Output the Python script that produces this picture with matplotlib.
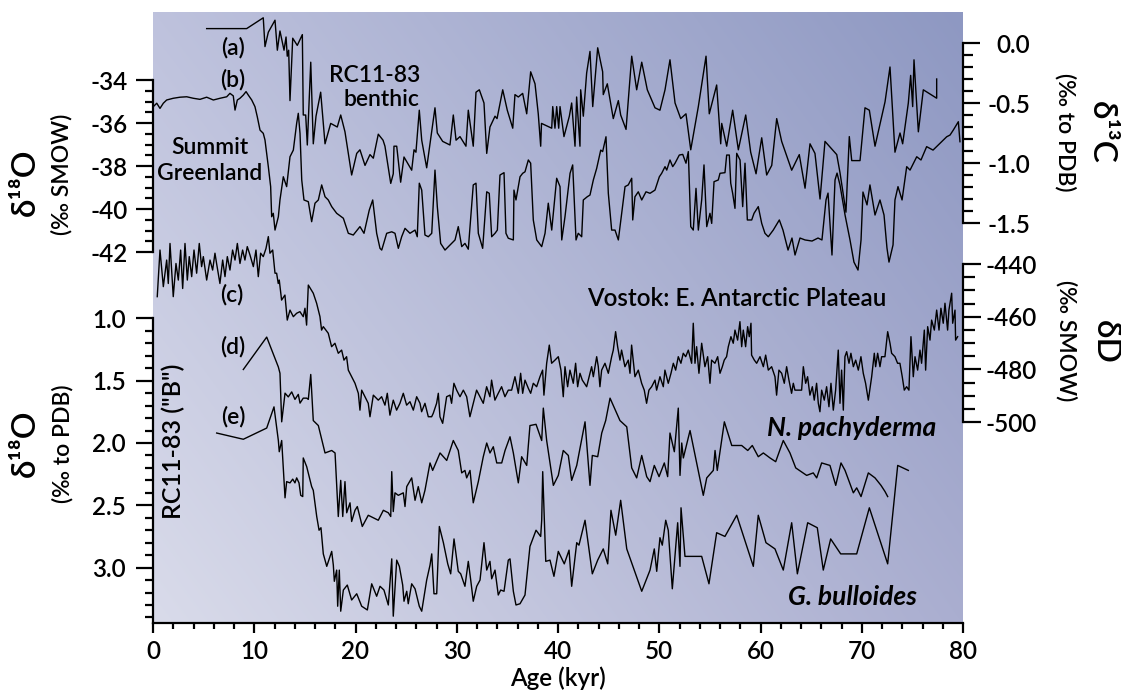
import numpy as np
import matplotlib
matplotlib.use("Agg")
import matplotlib.pyplot as plt
from matplotlib.ticker import FixedLocator, FormatStrFormatter

plt.rcParams['font.family'] = ['Lato', 'DejaVu Sans']
plt.rcParams['font.weight'] = 'semibold'
plt.rcParams['axes.unicode_minus'] = False

# ---------------- data (age kyr, value) ----------------
# (a) RC11-83 benthic d13C (permil PDB)
benthic_d13c = [
(5.30,0.12),(9.25,0.12),(10.89,0.21),(11.06,-0.03),(11.39,0.09),(12.05,0.19),(12.28,-0.06),(12.54,0.10),
(12.94,-0.06),(13.14,0.05),(13.26,-0.11),(13.40,-0.06),(13.53,-0.48),(13.80,0.04),(14.25,-0.02),(14.75,0.07),
(14.84,-0.60),(15.08,-0.60),(15.24,-0.85),(15.58,-0.16),(15.83,-0.84),(16.10,-0.61),(16.56,-0.41),(16.99,-0.84),
(17.55,-0.67),(18.20,-0.70),(18.54,-0.60),(18.96,-0.74),(19.62,-1.10),(20.12,-0.92),(20.44,-0.89),(20.94,-1.02),
(21.43,-0.93),(21.76,-0.96),(22.25,-0.76),(22.72,-0.81),(22.91,-0.86),(23.48,-1.17),(23.73,-1.09),(23.80,-0.86),
(24.07,-0.86),(24.46,-1.16),(24.79,-0.95),(25.55,-1.06),(25.78,-0.89),(25.97,-0.91),(26.30,-0.56),(26.54,-0.81),
(27.03,-1.04),(27.85,-0.54),(28.08,-0.75),(28.61,-0.82),(29.33,-0.85),(29.66,-0.60),(29.93,-0.81),(30.32,-0.78),
(30.91,-0.86),(31.14,-0.56),(31.63,-0.86),(31.90,-0.41),(32.23,-0.39),(32.69,-0.50),(32.96,-0.92),(33.28,-0.70),
(33.78,-0.61),(33.98,-0.63),(34.54,-0.39),(34.99,-0.56),(35.53,-0.71),(35.75,-0.43),(36.08,-0.45),(36.51,-0.42),
(36.91,-0.59),(37.30,-0.24),(37.73,-0.34),(38.05,-0.59),(38.29,-0.86),(38.37,-0.67),(39.38,-0.71),(39.48,-0.53),
(39.70,-0.71),(39.87,-0.53),(40.07,-0.71),(40.20,-0.53),(40.59,-0.78),(41.12,-0.61),(41.35,-0.50),(41.68,-0.86),
(41.84,-0.45),(42.17,-0.86),(42.24,-0.39),(42.50,-0.61),(42.83,-0.25),(43.16,-0.07),(43.43,-0.53),(43.92,-0.04),
(44.41,-0.24),(44.47,-0.43),(44.87,-0.34),(45.46,-0.63),(45.96,-0.48),(46.19,-0.60),(46.72,-0.72),(47.28,-0.11),
(47.77,-0.39),(48.27,-0.16),(48.82,-0.39),(49.58,-0.54),(50.07,-0.56),(50.57,-0.39),(51.06,-0.14),(51.56,-0.50),
(52.12,-0.63),(52.64,-0.59),(53.11,-0.89),(53.86,-0.53),(54.62,-0.11),(54.94,-0.59),(55.67,-0.35),(56.07,-0.84),
(56.17,-0.67),(56.66,-0.86),(57.25,-0.56),(57.81,-0.89),(58.54,-0.60),(59.03,-0.91),(59.56,-1.09),(60.12,-0.79),
(60.61,-1.10),(61.11,-1.02),(61.60,-0.63),(62.09,-0.82),(63.08,-1.06),(63.83,-0.93),(64.40,-1.21),(64.89,-0.84),
(65.38,-0.92),(65.88,-1.30),(66.37,-0.82),(67.53,-0.93),(67.85,-1.08),(68.44,-1.41),(68.77,-0.78),(69.01,-0.98),
(69.83,-0.98),(70.32,-0.54),(70.75,-0.56),(71.31,-0.86),(72.30,-0.49),(72.79,-0.20),(73.28,-0.91),(73.78,-0.75),
(74.04,-0.84),(74.60,-0.50),(74.83,-0.27),(75.03,-0.53),(75.16,-0.14),(75.59,-0.74),(76.08,-0.39),(77.40,-0.46),
(77.40,-0.30)]

# (b) Summit Greenland d18O (permil SMOW)
greenland_d18o = [
(0.03,-35.24),(0.37,-35.08),(0.69,-35.32),(1.02,-35.08),(1.35,-34.93),(2.00,-34.85),(2.67,-34.80),(3.33,-34.78),
(3.98,-34.85),(4.64,-34.90),(5.30,-34.80),(5.96,-34.93),(6.62,-34.85),(7.28,-34.78),(7.60,-34.62),(7.93,-34.74),
(8.10,-35.40),(8.33,-34.93),(8.59,-34.85),(8.92,-34.70),(9.19,-34.54),(9.41,-34.70),(9.75,-34.93),(10.07,-35.24),
(10.30,-35.71),(10.57,-36.33),(10.89,-36.48),(11.06,-36.79),(11.23,-37.41),(11.39,-38.03),(11.62,-38.96),(11.72,-40.36),
(11.88,-40.20),(12.05,-40.98),(12.38,-40.36),(12.54,-39.58),(12.87,-38.50),(13.20,-38.96),(13.53,-37.57),(13.86,-37.26),
(14.19,-36.01),(14.35,-35.55),(14.52,-36.48),(14.69,-38.65),(14.91,-39.58),(15.34,-39.66),(15.67,-40.59),(16.00,-39.73),
(16.33,-39.58),(16.66,-38.88),(16.99,-39.43),(17.31,-39.58),(17.65,-39.89),(18.14,-40.20),(18.80,-40.43),(19.29,-41.13),
(19.78,-41.21),(20.44,-40.82),(20.84,-41.13),(21.36,-40.05),(21.70,-39.58),(22.09,-41.13),(22.42,-41.83),(22.59,-41.91),
(23.08,-41.13),(23.58,-41.06),(23.90,-41.13),(24.23,-41.83),(24.56,-41.29),(24.89,-40.90),(25.38,-41.13),(25.88,-40.98),
(26.10,-41.29),(26.30,-38.80),(26.54,-39.12),(26.86,-41.21),(27.19,-41.29),(27.53,-41.13),(27.85,-38.19),(28.08,-39.89),
(28.41,-41.60),(28.84,-41.91),(29.83,-41.44),(30.15,-40.82),(30.49,-41.75),(30.81,-41.60),(31.14,-41.87),(31.63,-38.88),
(31.90,-38.80),(32.13,-41.13),(32.56,-41.83),(32.96,-39.20),(33.21,-39.27),(33.45,-41.29),(33.78,-41.13),(34.01,-40.98),
(34.27,-38.42),(34.67,-38.31),(34.86,-41.13),(35.09,-41.36),(35.59,-41.44),(35.65,-39.12),(35.85,-39.58),(36.25,-38.50),
(36.51,-38.34),(36.74,-38.27),(37.07,-37.72),(37.30,-37.87),(37.56,-40.51),(37.90,-41.44),(38.39,-41.75),(38.72,-41.13),
(39.04,-39.73),(39.38,-40.98),(39.87,-38.57),(40.20,-38.96),(40.37,-41.44),(40.69,-40.36),(41.19,-38.34),(41.45,-37.95),
(41.78,-41.44),(42.00,-41.13),(42.34,-41.29),(42.50,-39.58),(42.89,-39.43),(43.16,-39.35),(43.49,-38.65),(43.82,-38.11),
(44.22,-37.26),(44.41,-37.33),(44.74,-36.64),(44.97,-39.27),(45.30,-40.98),(45.63,-40.98),(45.96,-41.44),(46.29,-40.20),
(46.62,-38.96),(46.94,-38.88),(47.28,-38.57),(47.38,-40.51),(47.60,-39.43),(47.93,-39.20),(48.27,-39.58),(48.69,-39.20),
(49.09,-39.27),(49.58,-39.12),(50.01,-38.50),(50.24,-38.34),(50.57,-38.03),(50.74,-38.19),(51.06,-37.72),(51.33,-38.03),
(51.56,-37.87),(51.98,-37.49),(52.32,-37.46),(52.64,-37.87),(52.87,-37.33),(53.11,-40.82),(53.36,-40.98),(53.63,-39.04),
(53.86,-40.98),(54.19,-39.58),(54.42,-37.95),(54.69,-40.82),(55.01,-40.20),(55.18,-40.67),(55.41,-38.73),(55.83,-38.65),
(56.00,-38.34),(56.49,-38.31),(56.66,-37.49),(56.92,-37.49),(57.06,-38.80),(57.25,-39.27),(57.48,-39.97),(57.65,-37.41),
(57.98,-37.72),(58.24,-39.89),(58.47,-37.87),(58.70,-40.51),(59.13,-40.51),(59.36,-40.20),(59.78,-39.89),(60.12,-40.67),
(60.44,-41.13),(60.77,-41.29),(61.26,-40.98),(61.86,-40.51),(62.22,-40.98),(62.72,-41.91),(63.11,-41.35),(63.41,-42.14),
(63.90,-41.35),(64.40,-41.44),(65.09,-41.49),(65.68,-41.35),(66.07,-41.44),(66.47,-39.58),(66.67,-39.26),(67.06,-42.14),
(67.36,-38.65),(67.56,-38.33),(67.85,-38.88),(68.35,-40.28),(68.84,-41.44),(69.23,-42.47),(69.63,-42.84),(69.93,-41.44),
(70.12,-39.21),(70.52,-39.81),(70.81,-38.88),(71.31,-40.28),(71.80,-39.58),(72.20,-40.28),(72.49,-41.81),(72.69,-42.47),
(73.09,-41.67),(73.28,-39.58),(73.58,-38.96),(73.98,-39.58),(74.44,-38.03),(74.77,-38.19),(75.43,-37.57),(75.85,-37.72),
(76.41,-37.10),(77.04,-37.26),(77.73,-36.94),(78.39,-36.64),(78.72,-36.56),(79.04,-36.33),(79.54,-35.94),(79.70,-36.87)]

# (c) Vostok dD (permil SMOW)
vostok_dD = [
(0.42,-452.4),(0.69,-434.7),(1.02,-448.6),(1.35,-438.5),(1.51,-447.4),(1.68,-432.2),(2.00,-452.4),(2.27,-439.8),
(2.50,-446.1),(2.73,-434.7),(2.93,-449.3),(3.16,-432.2),(3.39,-446.1),(3.58,-437.2),(3.82,-444.8),(4.05,-434.7),
(4.31,-443.5),(4.57,-432.2),(4.80,-441.0),(4.97,-437.2),(5.30,-446.1),(5.63,-438.5),(5.89,-442.3),(6.12,-435.9),
(6.28,-439.8),(6.61,-447.4),(6.88,-438.5),(7.11,-444.8),(7.34,-437.2),(7.60,-442.3),(7.86,-434.7),(8.10,-438.5),
(8.33,-432.2),(8.59,-439.8),(8.85,-434.7),(9.08,-438.5),(9.31,-433.4),(9.58,-436.6),(9.91,-441.0),(10.17,-434.7),
(10.40,-444.8),(10.63,-435.9),(10.89,-437.2),(11.16,-434.1),(11.39,-429.6),(11.55,-435.9),(11.82,-434.7),(12.05,-443.5),
(12.21,-443.5),(12.37,-447.4),(12.47,-446.1),(12.70,-453.7),(13.03,-451.8),(13.26,-461.3),(13.53,-457.5),(13.86,-460.0),
(14.19,-458.7),(14.51,-458.1),(14.84,-460.0),(15.01,-456.8),(15.17,-463.2),(15.34,-448.0),(15.83,-451.1),(16.16,-454.9),
(16.49,-460.0),(16.65,-465.1),(16.82,-463.8),(17.31,-466.3),(17.64,-471.4),(17.97,-470.1),(18.30,-473.9),(18.63,-472.7),
(18.86,-476.5),(19.12,-475.2),(19.29,-480.3),(19.62,-482.8),(19.95,-485.3),(20.28,-489.1),(20.44,-495.5),(20.61,-487.9),
(20.93,-490.4),(21.26,-492.9),(21.43,-498.0),(21.76,-489.8),(22.25,-491.7),(22.58,-490.4),(22.91,-493.6),(23.14,-489.1),
(23.40,-497.4),(23.73,-491.7),(24.06,-495.5),(24.39,-492.9),(24.72,-489.1),(25.05,-493.6),(25.38,-492.3),(25.71,-495.5),
(26.04,-490.4),(26.37,-492.9),(26.53,-496.1),(26.86,-492.9),(27.19,-498.0),(27.52,-498.0),(27.68,-496.7),(28.01,-492.9),
(28.18,-489.1),(28.34,-498.0),(28.61,-500.5),(29.00,-490.4),(29.33,-489.8),(29.49,-492.9),(29.72,-485.3),(29.99,-487.9),
(30.32,-490.4),(30.65,-487.9),(30.98,-490.4),(31.30,-498.0),(31.63,-492.9),(31.96,-487.9),(32.29,-490.4),(32.62,-492.9),
(32.95,-486.6),(33.28,-490.4),(33.44,-484.1),(33.77,-491.7),(34.10,-489.1),(34.43,-486.6),(34.76,-490.4),(35.09,-487.9),
(35.42,-487.9),(35.75,-482.8),(36.08,-489.1),(36.31,-481.5),(36.51,-489.1),(36.74,-484.1),(37.07,-487.2),(37.30,-489.1),
(37.56,-485.3),(37.89,-486.6),(38.22,-482.8),(38.48,-480.3),(38.61,-489.8),(38.88,-477.7),(39.14,-470.8),(39.37,-477.7),
(39.70,-476.5),(40.03,-475.2),(40.29,-480.3),(40.52,-490.4),(40.69,-479.0),(40.95,-486.6),(41.18,-480.3),(41.51,-485.3),
(41.74,-477.7),(41.94,-486.6),(42.17,-481.5),(42.40,-484.1),(42.83,-486.6),(43.16,-481.5),(43.32,-479.0),(43.49,-482.8),
(43.82,-475.2),(43.98,-479.0),(44.14,-486.6),(44.31,-480.3),(44.64,-477.7),(44.97,-481.5),(45.30,-475.2),(45.46,-472.7),
(45.69,-465.7),(45.89,-471.4),(46.12,-476.5),(46.28,-472.7),(46.61,-479.0),(46.94,-476.5),(47.11,-481.5),(47.27,-470.8),
(47.60,-482.8),(47.93,-480.3),(48.26,-485.3),(48.52,-487.9),(48.75,-492.9),(48.98,-487.9),(49.25,-486.6),(49.58,-484.1),
(49.74,-487.9),(50.07,-482.8),(50.40,-486.6),(50.56,-480.3),(50.89,-485.3),(51.16,-481.5),(51.39,-477.7),(51.62,-480.3),
(51.88,-475.2),(52.14,-477.7),(52.37,-473.9),(52.61,-475.2),(52.87,-472.7),(53.20,-477.7),(53.36,-462.5),(53.53,-477.7),
(53.69,-471.4),(53.92,-481.5),(54.19,-470.1),(54.51,-479.0),(54.78,-475.2),(55.01,-485.3),(55.17,-476.5),(55.50,-477.7),
(55.77,-475.2),(56.00,-481.5),(56.23,-479.0),(56.42,-476.5),(56.65,-475.2),(56.82,-471.4),(57.08,-467.6),(57.31,-470.1),
(57.48,-465.1),(57.74,-468.9),(57.97,-461.9),(58.14,-471.4),(58.30,-465.1),(58.53,-471.4),(58.73,-463.8),(58.89,-467.6),
(59.06,-462.5),(59.12,-474.6),(59.39,-476.5),(59.62,-477.7),(59.95,-475.2),(60.28,-479.0),(60.51,-474.6),(60.77,-480.3),
(61.10,-479.0),(61.43,-482.8),(61.59,-489.8),(61.82,-480.3),(62.09,-481.5),(62.35,-485.3),(62.58,-479.0),(62.81,-484.1),
(63.07,-489.1),(63.24,-485.3),(63.40,-487.9),(64.06,-487.9),(64.23,-479.0),(64.46,-485.3),(64.65,-482.8),(64.88,-489.8),
(65.12,-486.6),(65.31,-491.7),(65.54,-485.3),(65.71,-492.9),(65.87,-496.1),(66.04,-487.9),(66.30,-491.7),(66.53,-486.6),
(66.76,-494.2),(66.96,-485.3),(67.19,-495.5),(67.42,-487.9),(67.68,-472.7),(67.85,-492.9),(68.01,-480.3),(68.18,-495.5),
(68.34,-475.2),(68.51,-473.3),(68.74,-477.7),(68.93,-473.9),(69.17,-479.0),(69.40,-476.5),(69.66,-480.3),(69.92,-475.2),
(70.15,-481.5),(70.38,-485.3),(70.65,-491.7),(70.98,-482.8),(71.24,-473.9),(71.37,-479.0),(71.57,-473.9),(71.80,-479.0),
(71.96,-475.2),(72.29,-475.2),(72.56,-465.7),(72.79,-470.1),(72.95,-473.9),(73.28,-475.2),(73.54,-477.7),(73.77,-477.7),
(74.00,-482.8),(74.20,-487.9),(74.43,-486.6),(74.66,-487.9),(74.86,-467.6),(75.09,-482.8),(75.26,-475.2),(75.52,-480.3),
(75.75,-472.7),(75.91,-477.7),(76.18,-465.1),(76.31,-480.3),(76.51,-463.8),(76.74,-468.9),(76.90,-461.3),(77.17,-465.1),
(77.40,-457.5),(77.63,-465.1),(77.82,-456.8),(78.05,-462.5),(78.22,-454.9),(78.48,-465.1),(78.61,-457.5),(78.88,-451.1),
(78.98,-462.5),(79.21,-457.5),(79.27,-468.9),(79.47,-467.6)]

# (d) RC11-83 N. pachyderma d18O (permil PDB)
pachyderma_d18o = [
(8.92,1.41),(11.23,1.15),(12.38,1.39),(12.54,1.44),(12.71,1.83),(13.04,1.60),(13.36,1.63),(13.70,1.59),(14.02,1.65),
(14.35,1.61),(14.52,1.68),(14.84,1.64),(15.18,1.64),(15.34,1.65),(15.58,1.45),(15.83,1.82),(16.33,1.86),(16.99,2.08),
(17.65,2.06),(17.98,2.08),(18.30,2.59),(18.54,2.30),(18.74,2.59),(18.96,2.31),(19.13,2.56),(19.46,2.48),(19.62,2.63),
(19.95,2.54),(20.18,2.51),(20.67,2.67),(21.26,2.58),(21.76,2.60),(22.25,2.62),(22.75,2.54),(23.24,2.56),(23.48,2.59),
(23.58,2.23),(23.73,2.55),(23.90,2.40),(24.23,2.42),(24.72,2.40),(24.89,2.51),(25.06,2.35),(25.55,2.28),(25.88,2.46),
(26.20,2.35),(26.54,2.48),(26.86,2.38),(27.36,2.16),(27.62,2.22),(28.35,2.08),(29.01,2.14),(29.66,1.98),(30.15,2.06),
(30.49,2.24),(30.81,2.22),(30.98,2.28),(31.31,2.22),(31.63,2.48),(32.13,2.31),(32.62,2.11),(32.96,2.00),(33.28,2.08),
(33.61,2.03),(33.95,2.16),(34.44,2.16),(34.77,2.06),(35.26,1.95),(35.59,2.08),(36.08,2.32),(36.41,2.11),(36.91,2.18),
(37.23,1.86),(37.83,1.85),(38.39,1.98),(38.55,1.72),(38.88,1.98),(39.54,2.34),(40.03,2.26),(40.52,2.06),(41.02,2.10),
(41.35,2.30),(41.85,2.18),(42.67,1.83),(43.16,2.34),(43.39,2.10),(43.92,2.11),(44.32,1.92),(44.71,1.82),(45.14,1.64),
(46.12,1.82),(46.79,1.87),(47.28,2.20),(47.77,2.28),(48.27,2.10),(48.76,2.27),(49.09,2.31),(49.51,2.18),(49.98,2.27),
(50.50,2.16),(50.83,2.27),(51.06,1.92),(51.49,2.07),(51.88,1.72),(52.05,2.26),(52.22,2.00),(52.38,2.12),(53.04,1.90),
(53.70,2.16),(54.35,2.42),(54.69,2.28),(55.34,2.22),(55.51,2.06),(55.73,2.22),(56.43,1.83),(57.16,2.02),(58.14,2.02),
(58.74,2.06),(59.19,2.02),(59.78,2.11),(60.28,2.08),(60.94,2.12),(61.50,2.15),(62.25,1.98),(62.91,2.08),(63.48,2.20),
(64.56,2.26),(65.21,2.24),(65.55,2.28),(66.04,2.16),(66.86,2.18),(67.43,2.34),(67.95,2.16),(68.35,2.22),(69.17,2.40),
(69.50,2.36),(69.93,2.43),(70.65,2.24),(71.31,2.28),(71.90,2.34),(72.30,2.39),(72.56,2.43)]

# (e) RC11-83 G. bulloides d18O (permil PDB)
bulloides_d18o = [
(6.29,1.92),(8.92,1.97),(11.23,1.88),(11.95,1.71),(12.38,1.98),(12.47,2.07),(12.71,1.98),(13.04,2.44),(13.20,2.31),
(13.53,2.32),(13.80,2.29),(14.02,2.32),(14.19,2.28),(14.42,2.32),(14.59,2.42),(14.79,2.43),(14.84,2.12),(15.18,2.19),
(15.67,2.35),(15.83,2.38),(16.17,2.59),(16.40,2.70),(16.59,2.68),(16.82,2.89),(17.16,2.99),(17.65,2.87),(17.81,2.98),
(17.91,3.11),(18.14,3.02),(18.24,3.31),(18.40,3.02),(18.54,3.35),(18.80,3.18),(19.19,3.14),(19.62,3.26),(20.12,3.21),
(20.61,3.31),(21.17,3.34),(21.60,3.13),(22.09,3.23),(22.42,3.15),(22.81,3.18),(23.24,3.30),(23.58,2.93),(23.73,3.39),
(24.07,2.94),(24.33,2.99),(24.66,3.14),(24.79,3.27),(25.06,3.19),(25.21,3.29),(25.55,3.13),(25.88,3.17),(26.30,3.31),
(26.54,3.35),(27.03,3.10),(27.36,2.98),(27.53,2.89),(27.75,3.21),(28.02,3.21),(28.28,2.67),(28.68,2.80),(29.11,2.97),
(29.40,3.05),(29.73,2.77),(30.15,3.03),(30.39,3.05),(30.81,3.15),(31.14,2.95),(31.38,3.10),(31.63,3.27),(31.97,3.15),
(32.30,3.10),(32.69,2.80),(32.96,3.02),(33.28,2.95),(33.45,3.09),(33.78,3.02),(34.10,3.22),(34.34,3.18),(34.67,3.19),
(35.09,2.94),(35.26,2.93),(35.59,3.19),(35.85,3.30),(36.25,3.29),(36.74,3.22),(37.23,2.83),(37.83,2.70),(38.29,2.75),
(38.39,2.62),(38.49,2.23),(38.79,2.95),(39.21,2.94),(39.60,3.07),(40.03,2.87),(40.62,2.97),(41.09,2.86),(41.35,3.15),
(41.85,2.80),(42.07,2.82),(42.67,2.62),(43.39,3.05),(43.92,2.94),(44.47,2.85),(44.91,2.97),(45.23,2.54),(45.70,2.74),
(46.19,2.46),(46.79,2.85),(48.27,3.19),(49.09,3.02),(49.51,2.85),(49.75,3.03),(50.07,2.76),(50.30,2.82),(50.64,2.62),
(50.89,2.70),(51.29,3.17),(51.82,2.64),(52.05,2.99),(52.15,2.52),(52.54,2.91),(54.19,2.91),(54.91,3.13),(55.67,2.72),
(56.49,2.75),(57.65,2.58),(59.29,2.99),(59.78,2.58),(60.54,2.80),(61.43,2.85),(62.25,3.02),(63.08,2.64),(63.64,3.05),
(64.66,2.64),(65.61,2.68),(66.20,3.02),(66.93,2.77),(67.92,2.89),(69.50,2.89),(70.75,2.52),(72.56,2.97),(73.55,2.18),
(74.60,2.22)]

# tick values
x_major = [0, 10, 20, 30, 40, 50, 60, 70, 80]
greenland_ticks = [-42, -40, -38, -36, -34]
pdb_ticks = [1.0, 1.5, 2.0, 2.5, 3.0]
d13c_ticks = [0.0, -0.5, -1.0, -1.5]
dD_ticks = [-440, -460, -480, -500]

# ---------------- layout ----------------
W, H = 1121, 692
L, R, T, B = 153, 963, 12, 623
fig = plt.figure(figsize=(W / 100, H / 100), dpi=100)
ax = fig.add_axes([L / W, 1 - B / H, (R - L) / W, (B - T) / H])
ax.set_xlim(0, 80)

# gradient background
n = 200
gx, gy = np.meshgrid(np.linspace(0, 1, n), np.linspace(0, 1, n))
c_bl = np.array([217, 219, 234]) / 255
c_br = np.array([170, 174, 208]) / 255
c_tl = np.array([190, 194, 221]) / 255
c_tr = np.array([142, 152, 194]) / 255
img = (c_bl * ((1 - gx) * (1 - gy))[..., None] + c_br * (gx * (1 - gy))[..., None]
       + c_tl * ((1 - gx) * gy)[..., None] + c_tr * (gx * gy)[..., None])
ax.imshow(img, extent=[0, 80, 0, 1], origin='lower', aspect='auto', zorder=0,
          interpolation='bilinear')
ax.set_xlim(0, 80)
ax.set_ylim(0, 1)
for s in ['left', 'right', 'top']:
    ax.spines[s].set_visible(False)
ax.spines['bottom'].set_linewidth(1.6)
ax.set_yticks([])
ax.xaxis.set_major_locator(FixedLocator(x_major))
ax.xaxis.set_minor_locator(FixedLocator(np.arange(0, 80.1, 2)))
ax.tick_params(axis='x', which='major', length=7, width=1.6, labelsize=17.5, pad=5)
ax.tick_params(axis='x', which='minor', length=4.5, width=1.6)

SPW = 1.6
TICKFS = 17.5


def lims(v1, p1, v2, p2):
    k = (v2 - v1) / (p2 - p1)
    return v1 + (B - p1) * k, v1 + (T - p1) * k


def twin(ylim, side, bounds, majors, minors, mlen, nlen, pad, fmt, ha=None):
    t = ax.twinx()
    t.set_ylim(*ylim)
    for s in t.spines.values():
        s.set_visible(False)
    sp = t.spines[side]
    sp.set_visible(True)
    sp.set_bounds(*bounds)
    sp.set_linewidth(SPW)
    t.yaxis.set_ticks_position(side)
    t.yaxis.set_label_position(side)
    t.yaxis.set_major_locator(FixedLocator(majors))
    t.yaxis.set_minor_locator(FixedLocator(minors))
    t.yaxis.set_major_formatter(FormatStrFormatter(fmt))
    t.tick_params(axis='y', which='major', length=mlen, width=SPW, labelsize=TICKFS,
                  pad=pad, direction='out')
    t.tick_params(axis='y', which='minor', length=nlen, width=SPW, direction='out')
    if ha:
        plt.setp(t.get_yticklabels(), ha=ha)
    return t


ax_b = twin(lims(-34, 80, -42, 252), 'left', (-42, -34), greenland_ticks,
            np.arange(-42, -33.9, 0.5), 12, 6, 6, '%d')
pdb_lim = lims(1.0, 318.4, 3.0, 567.6)
ax_de = twin(pdb_lim, 'left', (1.0, pdb_lim[0]), pdb_ticks,
             np.arange(1.0, 3.45, 0.1), 12, 6, 7.4, '%.1f')
ax_a = twin(lims(0.0, 43, -1.5, 223), 'right', (-1.5, 0.0), d13c_ticks,
            np.arange(-1.5, 0.01, 0.1), 12, 7, 36.2, '%.1f', ha='right')
ax_c = twin(lims(-440, 264, -500, 422), 'right', (-500, -440), dD_ticks,
            np.arange(-500, -439, 5), 13, 8.5, 40.3, '%d', ha='right')

lw = 1.0
a = np.array(benthic_d13c).T
ax_a.plot(a[0], a[1], color='black', lw=lw)
b = np.array(greenland_d18o).T
ax_b.plot(b[0], b[1], color='black', lw=lw)
c = np.array(vostok_dD).T
ax_c.plot(c[0], c[1], color='black', lw=lw)
d = np.array(pachyderma_d18o).T
ax_de.plot(d[0], d[1], color='black', lw=lw)
e = np.array(bulloides_d18o).T
ax_de.plot(e[0], e[1], color='black', lw=lw)


def ftext(px, py, s, **kw):
    kw.setdefault('ha', 'center')
    kw.setdefault('va', 'center')
    kw.setdefault('fontsize', 16.5)
    fig.text(px / W, 1 - py / H, s, **kw)


ftext(233, 48, '(a)')
ftext(233, 80, '(b)')
ftext(210, 147, 'Summit')
ftext(210, 173, 'Greenland')
ftext(375, 76, 'RC11-83')
ftext(381, 100, 'benthic')
ftext(232, 295, '(c)')
ftext(233, 347, '(d)')
ftext(233, 417, '(e)')
ftext(737, 298, 'Vostok: E. Antarctic Plateau', fontsize=17.5)
ftext(852, 428, 'N. pachyderma', style='italic', weight='bold', fontsize=19)
ftext(852, 597, 'G. bulloides', style='italic', weight='bold', fontsize=19)
ftext(173, 441, 'RC11-83 ("B")', rotation=90, fontsize=18)
ftext(26, 182, 'δ¹⁸O', rotation=90, fontsize=24)
ftext(62, 174, '(‰ SMOW)', rotation=90, fontsize=16.5)
ftext(26, 443, 'δ¹⁸O', rotation=90, fontsize=24)
ftext(63, 444, '(‰ to PDB)', rotation=90, fontsize=16.5)
ftext(1101, 132, 'δ¹³C', rotation=270, fontsize=24)
ftext(1065, 132, '(‰ to PDB)', rotation=270, fontsize=16.5)
ftext(1105, 342, 'δD', rotation=270, fontsize=24)
ftext(1066, 341, '(‰ SMOW)', rotation=270, fontsize=16.5)
ftext(558, 678, 'Age (kyr)', fontsize=17.5)

fig.savefig('out.png', dpi=100)
